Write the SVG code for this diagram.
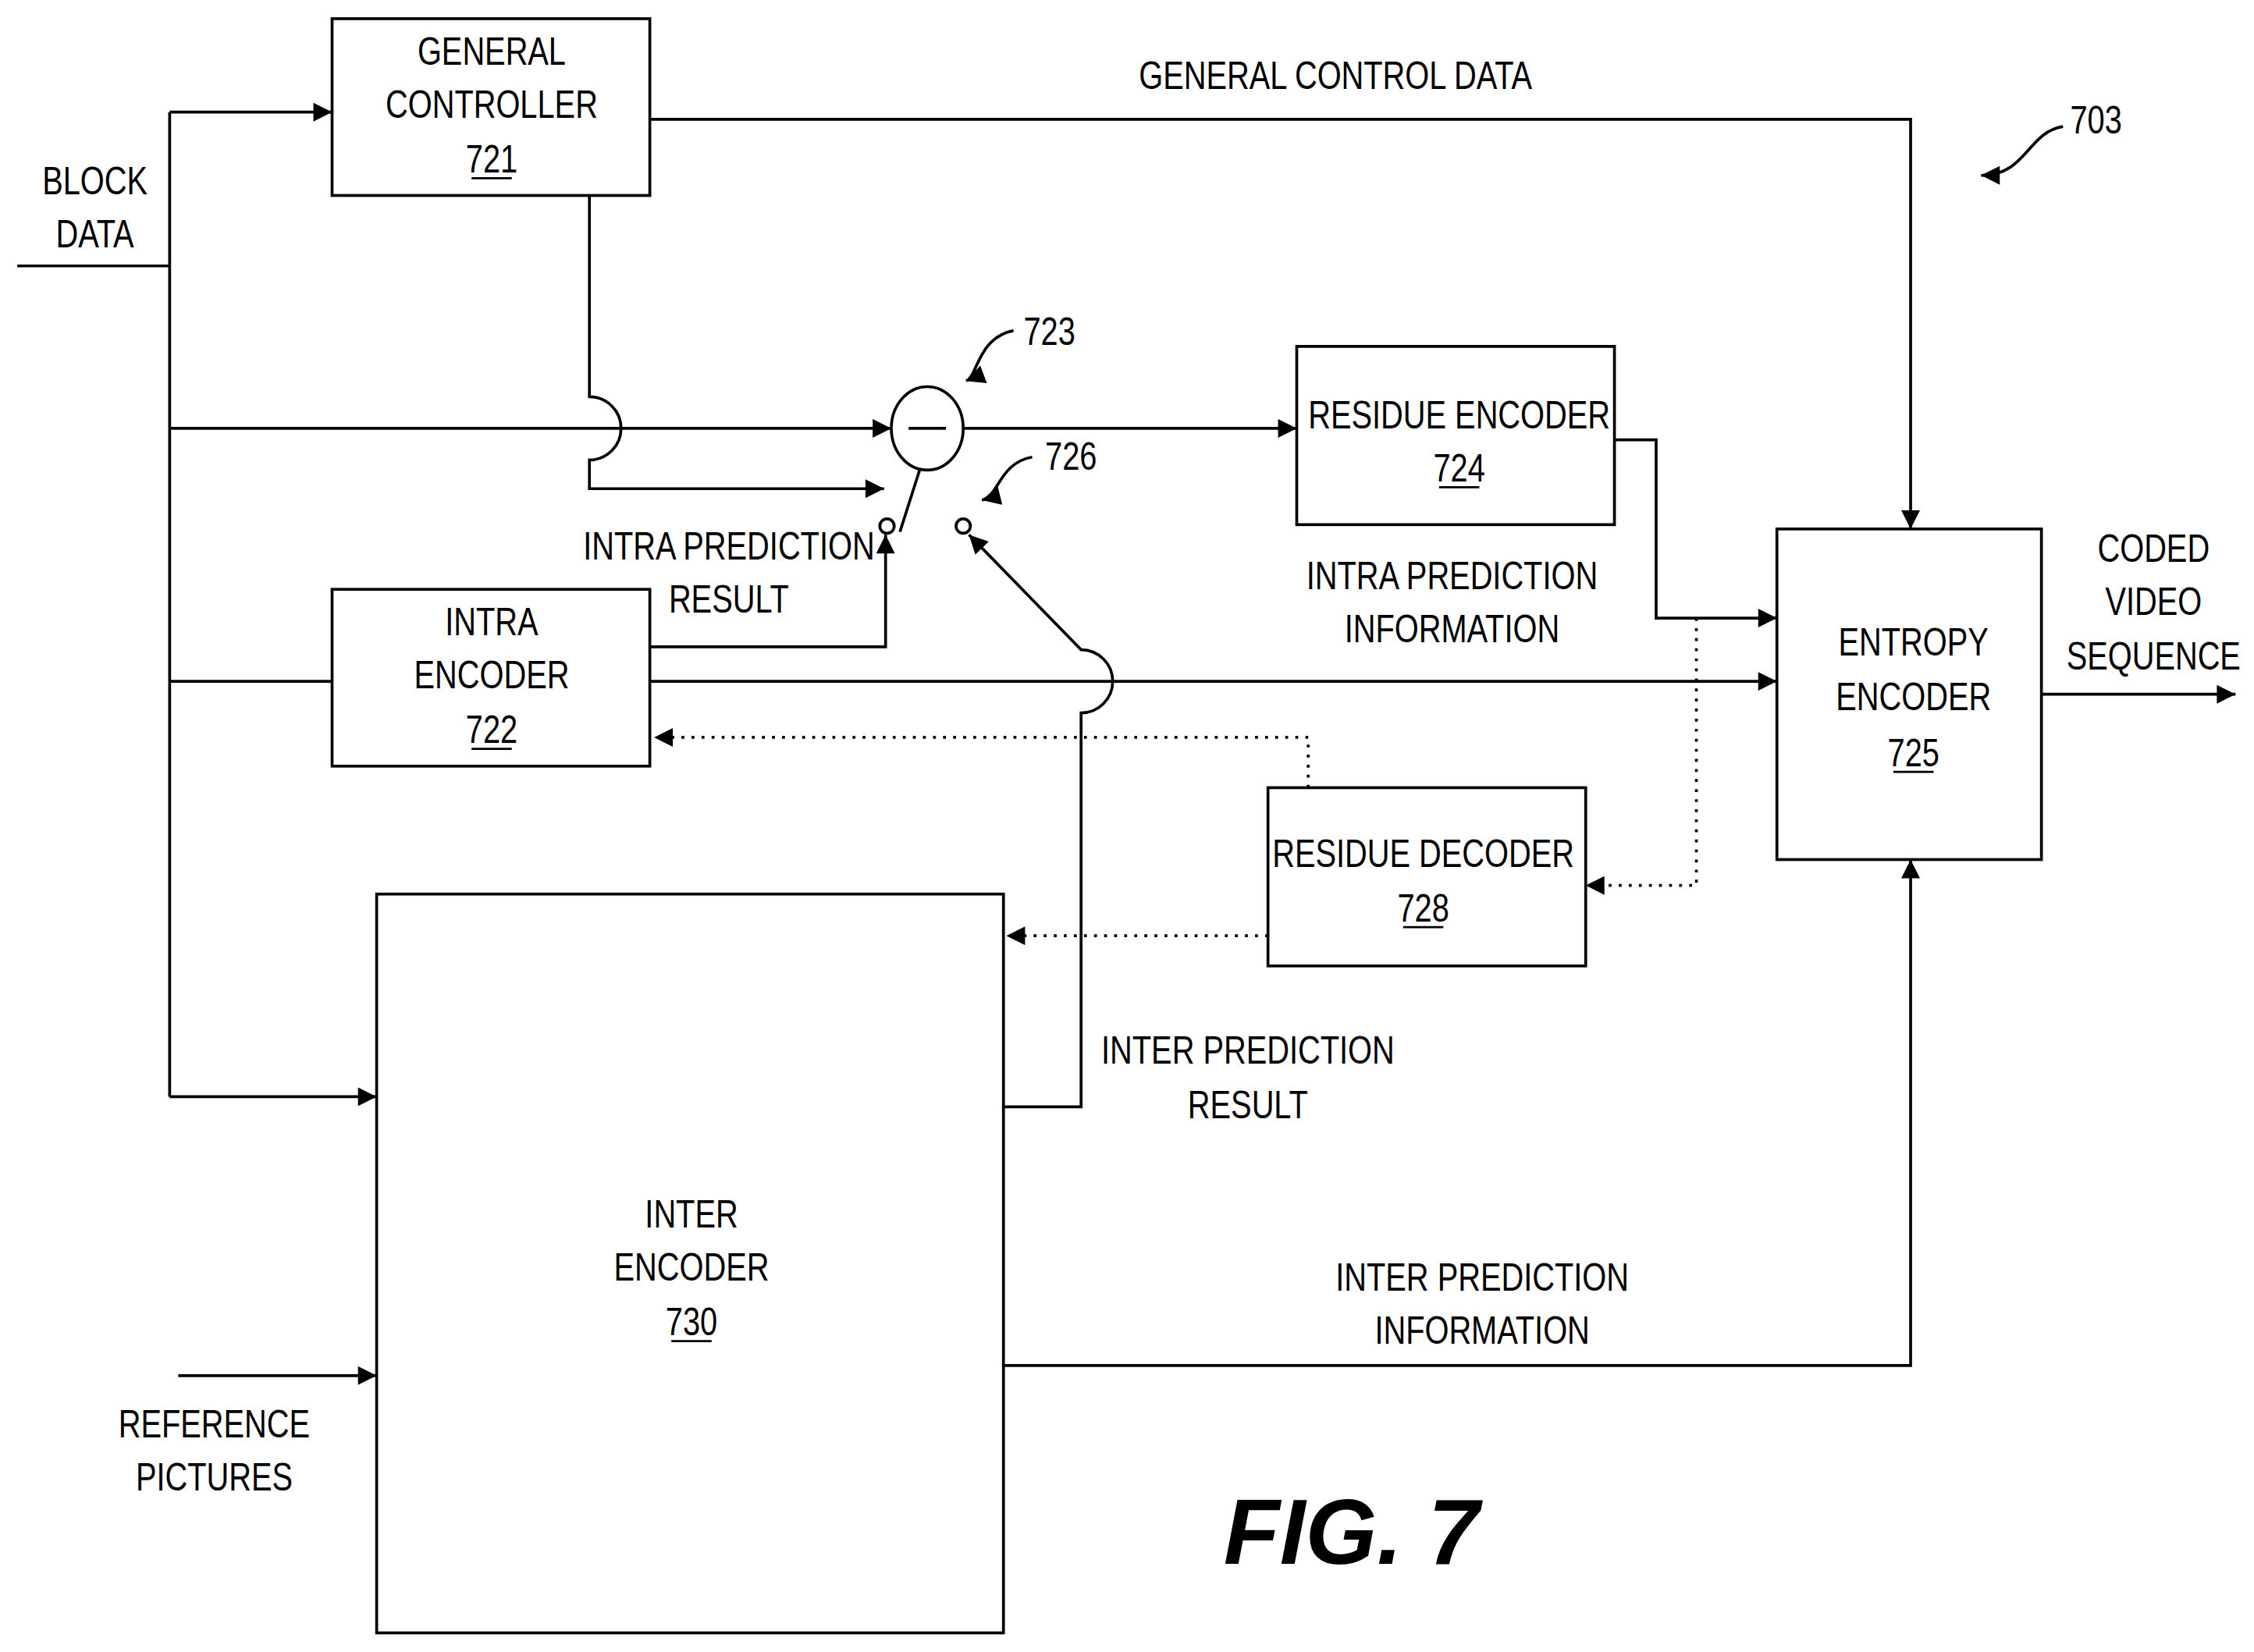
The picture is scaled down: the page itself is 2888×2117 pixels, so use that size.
<svg xmlns="http://www.w3.org/2000/svg" width="2888" height="2117" viewBox="0 0 2888 2117">
<style>
.b{fill:none;stroke:#000;stroke-width:2}
.l{fill:none;stroke:#000;stroke-width:2}
.d{fill:none;stroke:#000;stroke-width:2;stroke-dasharray:2 5}
text{font-family:"Liberation Sans",Arial,sans-serif;font-size:27px;text-anchor:middle;fill:#000}
text.n{transform-box:fill-box;transform-origin:center;transform:scaleX(0.8)}
.u{stroke:#000;stroke-width:1.5}
</style>
<defs>
<marker id="a" viewBox="0 0 10 10" refX="10" refY="5" markerWidth="9" markerHeight="6.5" orient="auto" markerUnits="strokeWidth"><path d="M0,0L10,5L0,10z" fill="#000"/></marker>
</defs>
<rect width="2888" height="2117" fill="#fff"/>
<g transform="scale(1.842)">
<g id="connectors">
<path class="l" d="M12,185H118M118,78V763"/>
<path class="l" marker-end="url(#a)" d="M118,78H231"/>
<path class="l" marker-end="url(#a)" d="M118,298H620"/>
<path class="l" d="M118,474H231"/>
<path class="l" marker-end="url(#a)" d="M118,763H262"/>
<path class="l" marker-end="url(#a)" d="M452,83H1329V368"/>
<path class="l" marker-end="url(#a)" d="M410,136V276A22,22 0 0 1 410,320V340H615"/>
<path class="l" d="M640,326L626,370"/>
<circle class="l" cx="617" cy="366" r="5"/>
<circle class="l" cx="670" cy="366" r="5"/>
<path class="l" marker-end="url(#a)" d="M452,450H616V372"/>
<path class="l" marker-end="url(#a)" d="M670,298H902"/>
<path class="l" marker-end="url(#a)" d="M1123,306H1152V430H1236"/>
<path class="d" marker-end="url(#a)" d="M1180,430V616H1103"/>
<path class="l" marker-end="url(#a)" d="M452,474H1236"/>
<path class="l" marker-end="url(#a)" d="M698,770H752V496A22,22 0 0 0 752,452L674,372"/>
<path class="d" marker-end="url(#a)" d="M910,548V513H455"/>
<path class="d" marker-end="url(#a)" d="M882,651H700"/>
<path class="l" marker-end="url(#a)" d="M698,950H1329V598"/>
<path class="l" marker-end="url(#a)" d="M1420,483H1555"/>
<path class="l" marker-end="url(#a)" d="M124,957H262"/>
<path class="l" marker-end="url(#a)" d="M705,230C680,235 680,262 672,265"/>
<path class="l" marker-end="url(#a)" d="M718,318C695,322 695,345 683,348"/>
<path class="l" marker-end="url(#a)" d="M1435,88C1410,92 1410,122 1378,122"/>
</g>
<g id="n721"><rect class="b" x="231" y="13" width="221" height="123"/><text class="n" x="342" y="45">GENERAL</text><text class="n" x="342" y="82">CONTROLLER</text><text class="n" x="342" y="120">721</text><line class="u" x1="328" y1="124" x2="356" y2="124"/></g>
<g id="n723"><ellipse class="b" cx="645" cy="298" rx="25" ry="29"/><line class="l" x1="632" y1="298" x2="658" y2="298"/><text class="n" x="730" y="240">723</text></g>
<g id="n726"><text class="n" x="745" y="327">726</text></g>
<g id="n722"><rect class="b" x="231" y="410" width="221" height="123"/><text class="n" x="342" y="442">INTRA</text><text class="n" x="342" y="479">ENCODER</text><text class="n" x="342" y="517">722</text><line class="u" x1="328" y1="521" x2="356" y2="521"/></g>
<g id="n724"><rect class="b" x="902" y="241" width="221" height="124"/><text class="n" x="1015" y="298">RESIDUE ENCODER</text><text class="n" x="1015" y="335">724</text><line class="u" x1="1001" y1="339" x2="1029" y2="339"/></g>
<g id="n728"><rect class="b" x="882" y="548" width="221" height="124"/><text class="n" x="990" y="603">RESIDUE DECODER</text><text class="n" x="990" y="641">728</text><line class="u" x1="976" y1="645" x2="1004" y2="645"/></g>
<g id="n730"><rect class="b" x="262" y="622" width="436" height="514"/><text class="n" x="481" y="854">INTER</text><text class="n" x="481" y="891">ENCODER</text><text class="n" x="481" y="929">730</text><line class="u" x1="467" y1="933" x2="495" y2="933"/></g>
<g id="n725"><rect class="b" x="1236" y="368" width="184" height="230"/><text class="n" x="1331" y="456">ENTROPY</text><text class="n" x="1331" y="494">ENCODER</text><text class="n" x="1331" y="533">725</text><line class="u" x1="1317" y1="537" x2="1345" y2="537"/></g>
<g id="labels">
<text class="n" x="66" y="135">BLOCK</text><text class="n" x="66" y="172">DATA</text>
<text class="n" x="929" y="62">GENERAL CONTROL DATA</text>
<text class="n" x="507" y="389">INTRA PREDICTION</text><text class="n" x="507" y="426">RESULT</text>
<text class="n" x="1010" y="410">INTRA PREDICTION</text><text class="n" x="1010" y="447">INFORMATION</text>
<text class="n" x="868" y="740">INTER PREDICTION</text><text class="n" x="868" y="778">RESULT</text>
<text class="n" x="1031" y="898">INTER PREDICTION</text><text class="n" x="1031" y="935">INFORMATION</text>
<text class="n" x="1498" y="391">CODED</text><text class="n" x="1498" y="428">VIDEO</text><text class="n" x="1498" y="466">SEQUENCE</text>
<text class="n" x="149" y="1000">REFERENCE</text><text class="n" x="149" y="1037">PICTURES</text>
<text class="n" x="1458" y="93">703</text>
<text x="940" y="1088" style="font-size:64px;font-weight:bold;font-style:italic">FIG. 7</text>
</g>
</g>
</svg>
